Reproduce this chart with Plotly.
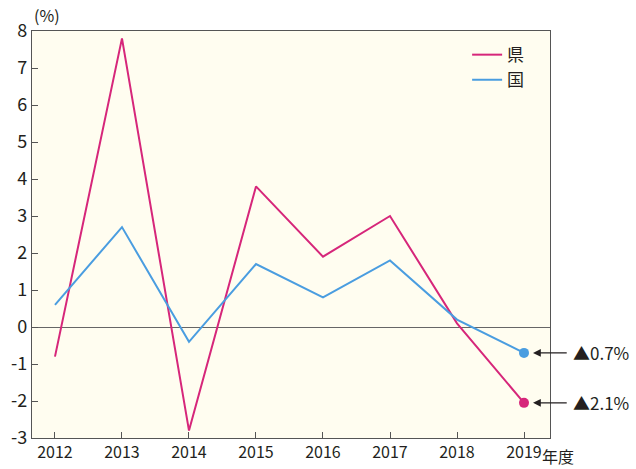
import plotly.graph_objects as go

years = ["2012", "2013", "2014", "2015", "2016", "2017", "2018", "2019"]
ken = [-0.8, 7.8, -2.8, 3.8, 1.9, 3.0, 0.1, -2.05]
kuni = [0.6, 2.7, -0.4, 1.7, 0.8, 1.8, 0.2, -0.7]
ken_label = "▲2.1%"
kuni_label = "▲0.7%"
yticks = [-3, -2, -1, 0, 1, 2, 3, 4, 5, 6, 7, 8]
ytick_text = ["-3", "-2", "-1", "0", "1", "2", "3", "4", "5", "6", "7", "8"]

FONT = "Noto Sans CJK JP"
TXT = "#231f20"
PINK = "#d6267a"
BLUE = "#4a9de0"

x = list(range(len(years)))
XMIN, XMAX = -0.343, 7.388

fig = go.Figure()
fig.add_trace(go.Scatter(x=x, y=ken, mode="lines", name="県",
                         line=dict(color=PINK, width=2)))
fig.add_trace(go.Scatter(x=x, y=kuni, mode="lines", name="国",
                         line=dict(color=BLUE, width=2)))
fig.add_trace(go.Scatter(x=[x[-1]], y=[kuni[-1]], mode="markers", showlegend=False,
                         marker=dict(color=BLUE, size=10)))
fig.add_trace(go.Scatter(x=[x[-1]], y=[ken[-1]], mode="markers", showlegend=False,
                         marker=dict(color=PINK, size=10)))

def px(xv):
    return (xv - XMIN) / (XMAX - XMIN)

for val, lab in [(kuni[-1], kuni_label), (ken[-1], ken_label)]:
    fig.add_annotation(x=x[-1], y=val, xref="x", yref="y", ax=x[-1] + 0.66, ay=val,
                       axref="x", ayref="y", text="", showarrow=True,
                       arrowhead=2, arrowsize=1.2, arrowwidth=1.3, arrowcolor=TXT,
                       standoff=9)
    fig.add_annotation(x=px(x[-1] + 0.7), y=val, xref="paper", yref="y", text=lab,
                       showarrow=False, xanchor="left", yanchor="middle",
                       font=dict(family=FONT, size=17, color=TXT))

fig.add_annotation(x=0, y=1, xref="paper", yref="paper", text="(%)",
                   showarrow=False, xanchor="left", yanchor="bottom", yshift=2,
                   font=dict(family=FONT, size=16, color=TXT))
fig.add_annotation(x=px(x[-1]), y=0, xref="paper", yref="paper", text="年度",
                   showarrow=False, xanchor="left", yanchor="top", xshift=16, yshift=-4,
                   font=dict(family=FONT, size=16, color=TXT))

fig.update_layout(
    width=636, height=469,
    margin=dict(l=32, r=86, t=31, b=31),
    paper_bgcolor="white",
    plot_bgcolor="#fffdf0",
    font=dict(family=FONT, color=TXT),
    legend=dict(x=0.84, y=0.985, xanchor="left", yanchor="top",
                bgcolor="rgba(0,0,0,0)", font=dict(family=FONT, size=17, color=TXT),
                itemwidth=30, tracegroupgap=0),
    showlegend=True,
)
fig.update_xaxes(range=[XMIN, XMAX], tickvals=x, ticktext=years, automargin=False,
                 ticks="inside", ticklen=6, tickcolor="#555", showgrid=False,
                 zeroline=False, showline=True, linecolor="#555", linewidth=1.2,
                 mirror=True, tickfont=dict(family=FONT, size=16, color=TXT))
fig.update_yaxes(range=[-3, 8], tickvals=yticks, ticktext=ytick_text, automargin=False,
                 ticks="inside", ticklen=6, tickcolor="#555",
                 showgrid=False, zeroline=True, zerolinecolor="#666", zerolinewidth=1.2,
                 showline=True, linecolor="#555", linewidth=1.2, mirror=True,
                 tickfont=dict(family=FONT, size=18, color=TXT))

fig.write_html("out.html", config={"displayModeBar": False},
               post_script="document.body.style.margin='0';")
